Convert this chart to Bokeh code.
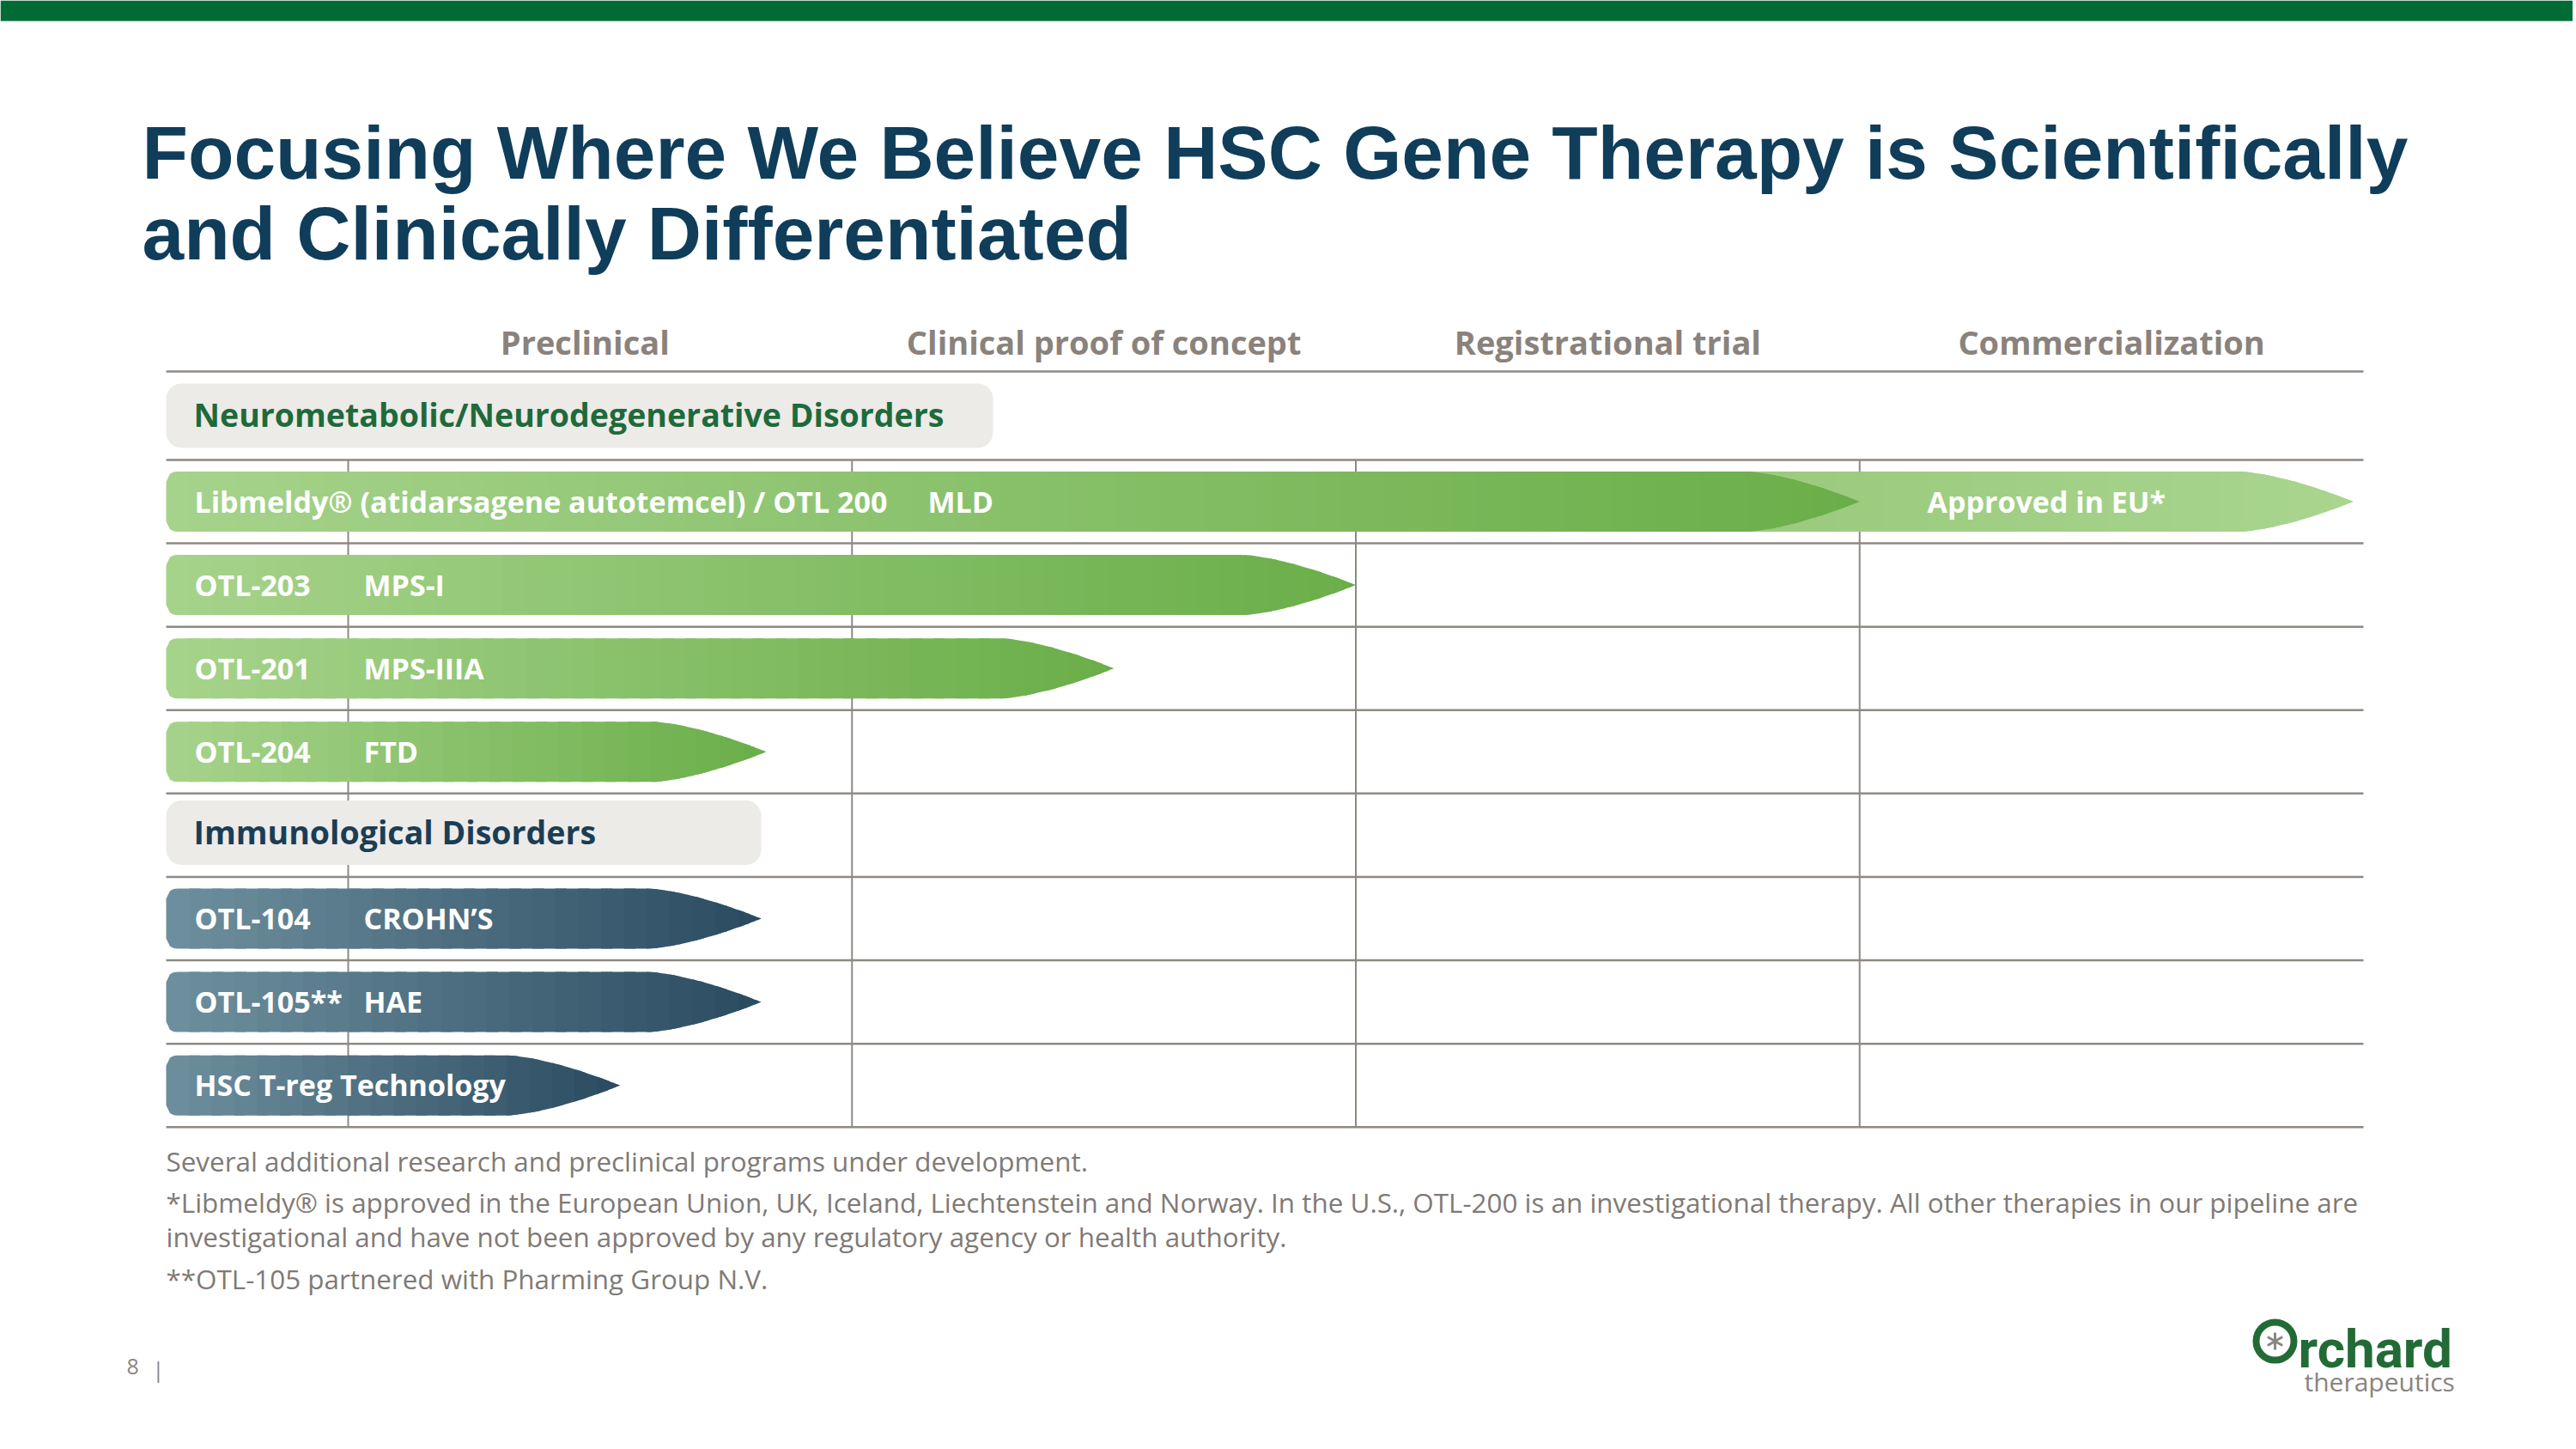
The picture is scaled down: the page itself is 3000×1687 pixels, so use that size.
import numpy as np
from bokeh.plotting import figure
from bokeh.models import Range1d, ColumnDataSource
from bokeh.core.properties import value
from bokeh.embed import file_html
from bokeh.resources import INLINE

# ---------------- data ----------------
title_lines = ["Focusing Where We Believe HSC Gene Therapy is Scientifically",
               "and Clinically Differentiated"]
phases = ["Preclinical", "Clinical proof of concept", "Registrational trial", "Commercialization"]
categories = ["Neurometabolic/Neurodegenerative Disorders", "Immunological Disorders"]
programs = ["Libmeldy\u00ae (atidarsagene autotemcel) / OTL 200", "OTL-203", "OTL-201", "OTL-204",
            "OTL-104", "OTL-105**", "HSC T-reg Technology"]
indications = ["MLD", "MPS-I", "MPS-IIIA", "FTD", "CROHN\u2019S", "HAE", ""]
program_category = [0, 0, 0, 0, 1, 1, 1]
progress = [3.0, 2.0, 1.52, 0.83, 0.82, 0.82, 0.54]      # phases reached (phase units)
approved_program = 0
approved_progress = 3.98
approved_label = "Approved in EU*"
footnotes = [
    "Several additional research and preclinical programs under development.",
    "*Libmeldy\u00ae is approved in the European Union, UK, Iceland, Liechtenstein and Norway. In the U.S., OTL-200 is an investigational therapy. All other therapies in our pipeline are",
    "investigational and have not been approved by any regulatory agency or health authority.",
    "**OTL-105 partnered with Pharming Group N.V.",
]
page_number = "8"

# ---------------- layout ----------------
W, H = 2996, 1680
OFF = 0
PX_PHASE = 586.75
X0 = 405.0
PX_ROW = 97.1
ROW1 = 583.5
BASE_K = 0.39   # svg text baseline correction (fraction of font size)


def dx(px):
    return (px - X0) / PX_PHASE


def dy(py):
    return 1 + (py - ROW1) / PX_ROW


def tb(py, fs, k=BASE_K):
    """data y that puts the text baseline at page y = py"""
    return dy(py - k * fs)


def tbr(row, off_px, fs):
    return row + (off_px - BASE_K * fs) / PX_ROW


FONT = value("Open Sans")
GREEN_L, GREEN_R = "#a6d38b", "#6aae49"
APPR_L, APPR_R = "#98c87a", "#a9d58f"
BLUE_L, BLUE_R = "#6e909e", "#2a4a60"
GRID = "#8f8984"
HEAD = "#8a827c"
FOOT = "#7f7a76"
CAT_COLORS = ["#1f6a3b", "#1b3d55"]
BAND_COLORS = [(GREEN_L, GREEN_R), (BLUE_L, BLUE_R)]

p = figure(width=W, height=H, x_range=Range1d(dx(OFF), dx(OFF + W)),
           y_range=Range1d(dy(OFF + H), dy(OFF)), output_backend="svg",
           toolbar_location=None, min_border=0, x_axis_location=None, y_axis_location=None)
p.grid.visible = False
p.outline_line_color = None
p.background_fill_color = "white"
p.border_fill_color = "white"

# rows: category row then its programs
rows_cat, rows_prog = [], []
r = 0
for ci in range(len(categories)):
    rows_cat.append(r)
    r += 1
    for pi, pc in enumerate(program_category):
        if pc == ci:
            rows_prog.append(r)
            r += 1
n_rows = r

table_l = dx(193)
table_r = float(len(phases))

# top band
p.quad(left=[dx(OFF)], right=[dx(OFF + W)], top=[dy(OFF)], bottom=[dy(24)],
       fill_color="#006b35", line_color=None)

# title
TFS = 87.5
p.text(x=[dx(165)] * 2, y=[tb(205, TFS, 0.32), tb(299, TFS, 0.32)], text=title_lines,
       text_font=value("Liberation Sans"), text_font_style="bold", text_font_size="%spx" % TFS,
       text_color="#0f3d5a", text_baseline="alphabetic")

# header labels
HFS = 38
hx = [i + 0.5 for i in range(len(phases))]
hx[0] -= 0.03
p.text(x=hx, y=[tb(412, HFS)] * len(phases), text=phases, text_font=FONT, text_font_style="bold",
       text_font_size="%spx" % HFS, text_color=HEAD, text_align="center", text_baseline="alphabetic")

# grid lines
hys = [dy(432)] + [k + 0.5 for k in range(n_rows)]
p.multi_line(xs=[[table_l, table_r]] * len(hys), ys=[[y, y] for y in hys],
             line_color=GRID, line_width=2.5)
p.multi_line(xs=[[k, k] for k in range(len(phases))],
             ys=[[0.5, n_rows - 0.5]] * len(phases), line_color=GRID, line_width=2)


def interp(c1, c2, f):
    a = [int(c1[i:i + 2], 16) for i in (1, 3, 5)]
    b = [int(c2[i:i + 2], 16) for i in (1, 3, 5)]
    return "#%02x%02x%02x" % tuple(int(round(a[k] + (b[k] - a[k]) * f)) for k in range(3))


HH = 35 / PX_ROW
TL = 132 / PX_PHASE
RX, RY = 12 / PX_PHASE, 12 / PX_ROW


def half_h(x, xl, xr, rounded):
    h = np.full_like(x, HH)
    if rounded:
        m = x < xl + RX
        u = np.clip((xl + RX - x[m]) / RX, 0, 1)
        h[m] = HH - RY * (1 - np.sqrt(1 - u ** 2))
    m2 = x > xr - TL
    t = np.clip((x[m2] - (xr - TL)) / TL, 0, 1)
    h[m2] = np.minimum(h[m2], HH * (1 - t ** 1.5))
    return h


def arrow_bar(xl, xr, yc, c1, c2, rounded=True):
    n = max(6, int((xr - xl) * PX_PHASE / 26))
    edges = np.linspace(xl, xr, n + 1)
    step = edges[1] - edges[0]
    xs_all, ys_all, cols = [], [], []
    for i in range(n):
        xa = edges[i]
        xb = min(edges[i + 1] + 0.5 * step, xr)
        xs = np.linspace(xa, xb, 10)
        h = half_h(xs, xl, xr, rounded)
        xs_all.append(list(np.concatenate([xs, xs[::-1]])))
        ys_all.append(list(np.concatenate([yc - h, (yc + h)[::-1]])))
        cols.append(interp(c1, c2, (i + 0.5) / n))
    p.patches(xs=xs_all, ys=ys_all, fill_color=cols, line_color=None)


def rounded_rect(x0, x1, y0, y1, rpx):
    rx, ry = rpx / PX_PHASE, rpx / PX_ROW
    a = np.linspace(0, np.pi / 2, 10)
    xs = list(x0 + rx - rx * np.cos(a)) + list(x1 - rx + rx * np.cos(a[::-1])) + \
        list(x1 - rx + rx * np.cos(a)) + list(x0 + rx - rx * np.cos(a[::-1]))
    ys = list(y0 + ry - ry * np.sin(a)) + list(y0 + ry - ry * np.sin(a[::-1])) + \
        list(y1 - ry + ry * np.sin(a)) + list(y1 - ry + ry * np.sin(a[::-1]))
    return xs, ys


# category boxes
CFS = 37.5
cat_box_right = [dx(1156), dx(886)]
cbh = 37.5 / PX_ROW
for ci, rr in enumerate(rows_cat):
    xs, ys = rounded_rect(table_l, cat_box_right[ci], rr - cbh - 0.03, rr + cbh - 0.03, 18)
    p.patch(xs, ys, fill_color="#ecebe8", line_color=None)
for ci, rr in enumerate(rows_cat):
    p.text(x=[dx(225)], y=[tbr(rr - 0.03, 13.5, CFS)], text=[categories[ci]], text_font=FONT,
           text_font_style="bold", text_font_size="%spx" % CFS, text_color=CAT_COLORS[ci],
           text_baseline="alphabetic")

# approved (light) segment drawn first, under the main bar
ar = rows_prog[approved_program]
arrow_bar(progress[approved_program] - 0.4, approved_progress, ar, APPR_L, APPR_R, rounded=False)

# program bars
for pi, rr in enumerate(rows_prog):
    c1, c2 = BAND_COLORS[program_category[pi]]
    arrow_bar(table_l, progress[pi], rr, c1, c2)

BFS = 34
lbl = ColumnDataSource(dict(
    x=[dx(226)] * len(programs),
    y=[tbr(rr, 13, BFS) for rr in rows_prog],
    text=programs))
p.text(x="x", y="y", text="text", source=lbl, text_font=FONT, text_font_style="bold",
       text_font_size="%spx" % BFS, text_color="white", text_baseline="alphabetic")
ind_x = []
for pi in range(len(programs)):
    ind_x.append(dx(1080) if pi == 0 else dx(423))
ind = ColumnDataSource(dict(x=ind_x, y=[tbr(rr, 13, BFS) for rr in rows_prog], text=indications))
p.text(x="x", y="y", text="text", source=ind, text_font=FONT, text_font_style="bold",
       text_font_size="%spx" % BFS, text_color="white", text_baseline="alphabetic")
p.text(x=[dx(2244)], y=[tbr(ar, 13, BFS)], text=[approved_label], text_font=FONT,
       text_font_style="bold", text_font_size="%spx" % BFS, text_color="white",
       text_baseline="alphabetic")

# footnotes
FFS = 31.4
p.text(x=[dx(193)] * len(footnotes),
       y=[tb(1363, FFS), tb(1411, FFS), tb(1451, FFS), tb(1500, FFS)], text=footnotes,
       text_font=FONT, text_font_size="%spx" % FFS, text_color=FOOT, text_baseline="alphabetic")

# page number
PFS = 25
p.text(x=[dx(147), dx(177)], y=[tb(1600, PFS), tb(1603, PFS)], text=[page_number, "|"], text_font=FONT,
       text_font_size="%spx" % PFS, text_color="#8a8580", text_baseline="alphabetic")

# logo
p.scatter(x=[dx(2649)], y=[dy(1561)], size=44, marker="circle", fill_color=None,
          line_color="#236b36", line_width=8)
p.scatter(x=[dx(2649)] * 3, y=[dy(1561)] * 3, size=20, marker="dash",
          angle=[np.pi / 2, np.pi / 6, 5 * np.pi / 6], line_color="#8a8580", line_width=3)
LFS = 62
p.text(x=[dx(2676)], y=[tb(1586, LFS, 0.26)], text=["rchard"], text_font=value("Roboto"),
       text_font_size="%spx" % LFS, text_font_style="bold", text_color="#236b36",
       text_baseline="alphabetic")
TFS2 = 30
p.text(x=[dx(2683)], y=[tb(1620, TFS2)], text=["therapeutics"], text_font=FONT,
       text_font_size="%spx" % TFS2, text_color="#8a847f", text_baseline="alphabetic")

open("out.html", "w").write(file_html(p, INLINE))
